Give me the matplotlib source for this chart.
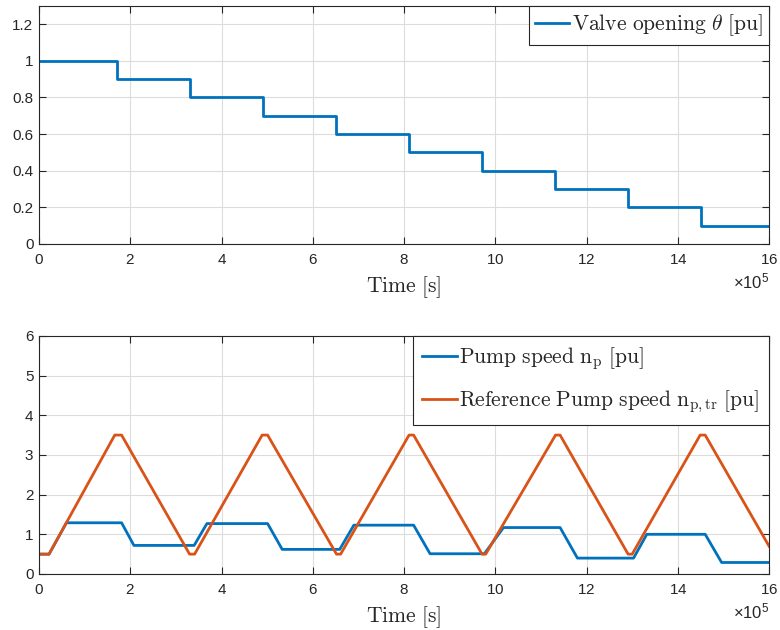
import matplotlib
matplotlib.use("Agg")
import matplotlib.pyplot as plt
from matplotlib import ticker
from matplotlib.font_manager import FontProperties

# valve opening steps (time in s, value in pu)
valve_t = [0, 1.7e5, 1.7e5, 3.3e5, 3.3e5, 4.9e5, 4.9e5, 6.5e5, 6.5e5, 8.1e5, 8.1e5,
           9.7e5, 9.7e5, 11.3e5, 11.3e5, 12.9e5, 12.9e5, 14.5e5, 14.5e5, 16e5]
valve_v = [1.0, 1.0, 0.9, 0.9, 0.8, 0.8, 0.7, 0.7, 0.6, 0.6, 0.5,
           0.5, 0.4, 0.4, 0.3, 0.3, 0.2, 0.2, 0.1, 0.1]

# pump speed
pump_t = [0, 0.22e5, 0.6e5, 1.81e5, 2.08e5, 3.40e5, 3.68e5, 5.01e5, 5.33e5, 6.59e5,
          6.90e5, 8.21e5, 8.57e5, 9.76e5, 10.18e5, 11.42e5, 11.80e5, 13.03e5, 13.32e5,
          14.60e5, 14.96e5, 16e5]
pump_v = [0.5, 0.5, 1.29, 1.29, 0.72, 0.72, 1.27, 1.27, 0.62, 0.62,
          1.23, 1.23, 0.51, 0.51, 1.17, 1.17, 0.40, 0.40, 1.0,
          1.0, 0.29, 0.29]

# reference pump speed (triangle)
ref_t = [0, 0.22e5, 1.66e5, 1.81e5, 3.30e5, 3.41e5, 4.89e5, 5.01e5, 6.52e5, 6.61e5,
         8.11e5, 8.21e5, 9.71e5, 9.79e5, 11.32e5, 11.42e5, 12.91e5, 13.0e5, 14.49e5,
         14.6e5, 16e5]
ref_v = [0.5, 0.5, 3.5, 3.5, 0.5, 0.5, 3.5, 3.5, 0.5, 0.5,
         3.5, 3.5, 0.5, 0.5, 3.5, 3.5, 0.5, 0.5, 3.5,
         3.5, 0.7]

BLUE = "#0072BD"
ORANGE = "#D95319"
DARK = "#262626"

plt.rcParams["font.family"] = ["Liberation Sans", "DejaVu Sans"]
plt.rcParams["mathtext.fontset"] = "custom"
plt.rcParams["mathtext.rm"] = "Liberation Sans"
plt.rcParams["mathtext.it"] = "Liberation Sans:italic"

serif = FontProperties(size=15.5, math_fontfamily="cm")


def style_axes(ax, ymax, yticks):
    ax.set_xlim(0, 16e5)
    ax.set_ylim(0, ymax)
    ax.set_xticks([i * 2e5 for i in range(9)])
    ax.set_yticks(yticks)
    ax.ticklabel_format(axis="x", style="sci", scilimits=(5, 5), useMathText=True)
    ax.yaxis.set_major_formatter(ticker.FormatStrFormatter("%g"))
    ax.tick_params(direction="in", top=True, right=True, length=5, width=0.8,
                   labelsize=11, colors=DARK)
    ax.tick_params(axis="x", pad=6.5)
    ax.tick_params(axis="y", pad=4)
    ax.xaxis.get_offset_text().set_fontsize(12)
    ax.xaxis.get_offset_text().set_color(DARK)
    for s in ax.spines.values():
        s.set_color(DARK)
        s.set_linewidth(0.8)
    ax.grid(True, color="#dcdcdc", linewidth=0.8)
    ax.set_axisbelow(True)
    ax.set_xlabel(r"$\mathrm{Time\ [s]}$", fontproperties=serif, color=DARK, labelpad=5)


fig = plt.figure(figsize=(7.8, 6.3), dpi=100)
ax1 = fig.add_axes([0.05, 0.6127, 0.936, 0.378])
ax2 = fig.add_axes([0.05, 0.0889, 0.936, 0.378])

ax1.plot(valve_t, valve_v, color=BLUE, lw=2, label=r"$\mathrm{Valve\ opening}\ \theta\ \mathrm{[pu]}$")
style_axes(ax1, 1.3, [0, 0.2, 0.4, 0.6, 0.8, 1.0, 1.2])

ax2.plot(pump_t, pump_v, color=BLUE, lw=2, label=r"$\mathrm{Pump\ speed\ n_{p}\ [pu]}$")
ax2.plot(ref_t, ref_v, color=ORANGE, lw=2, label=r"$\mathrm{Reference\ Pump\ speed\ n_{p,tr}\ [pu]}$")
style_axes(ax2, 6, [0, 1, 2, 3, 4, 5, 6])

for ax, pad, spacing in ((ax1, 0.3, 0.4), (ax2, 0.45, 0.75)):
    leg = ax.legend(loc="upper right", borderaxespad=0, fancybox=False, framealpha=1,
                    edgecolor=DARK, prop=serif, handlelength=1.6, handletextpad=0.1,
                    borderpad=pad, labelspacing=spacing)
    leg.get_frame().set_linewidth(0.8)
    for t in leg.get_texts():
        t.set_color(DARK)

fig.savefig("out.png", dpi=100)
